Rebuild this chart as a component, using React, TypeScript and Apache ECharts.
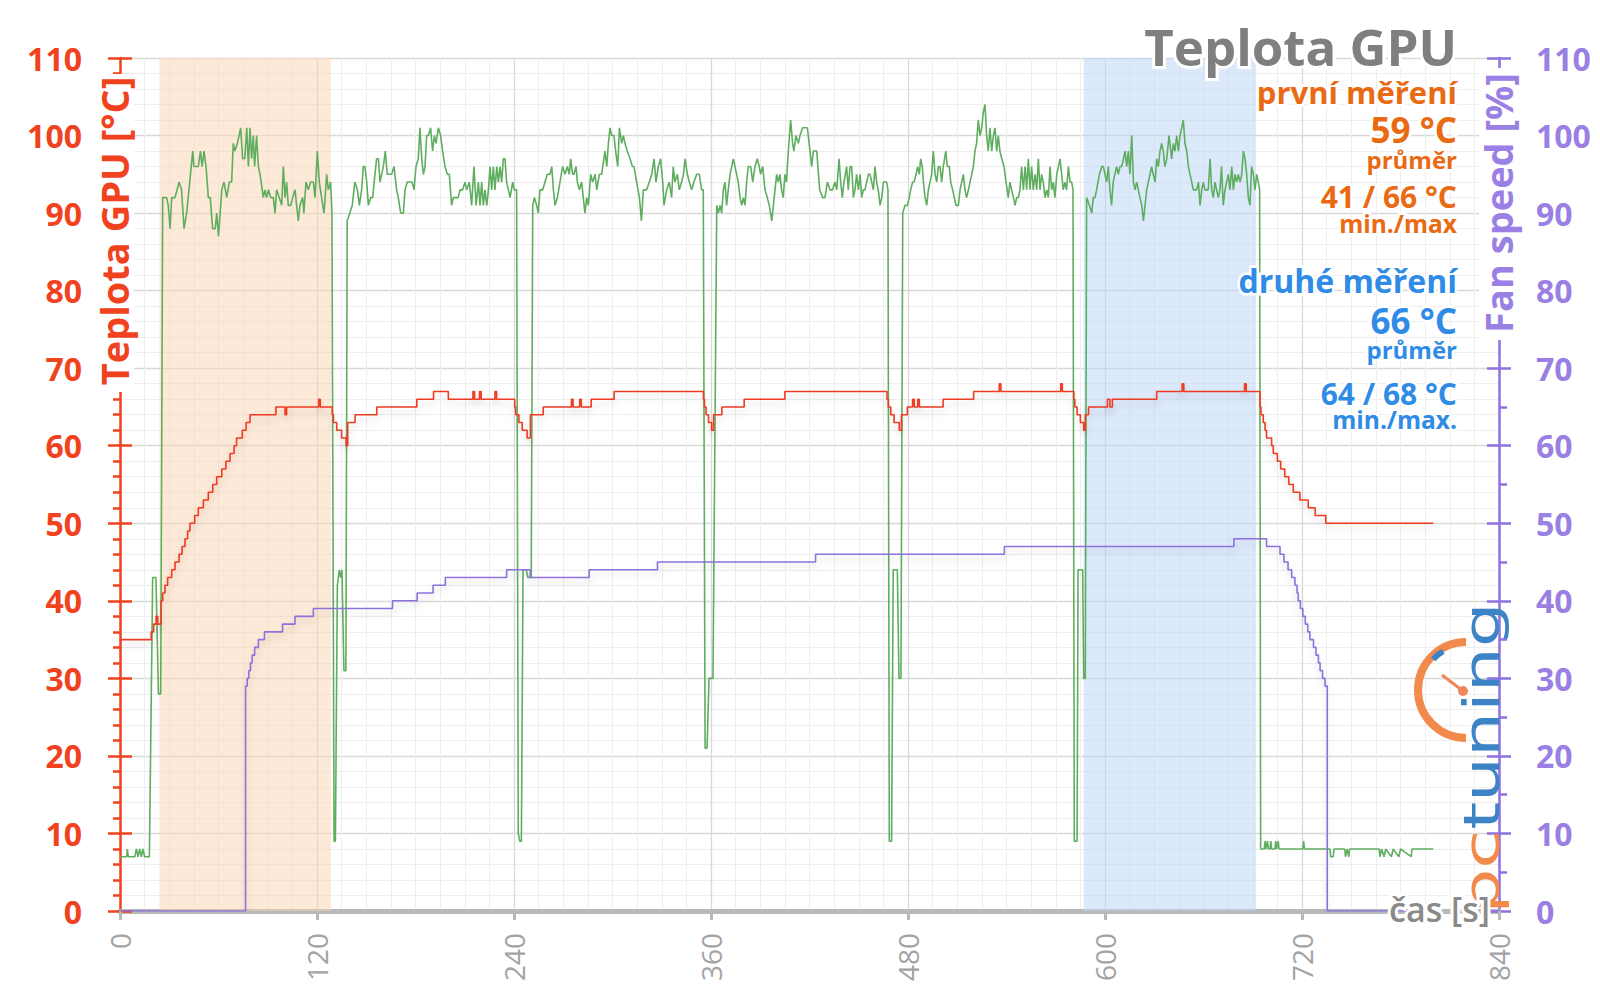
import React, { useEffect, useRef } from 'react';
import * as echarts from 'echarts';

// ---------- data (time [s], value) ----------
const greenPts: [number, number][] = [
  [0,7],[4,7],[4.5,8],[5,7],[9,7],[10,8],[11,7],[12,8],[13,7],[14,8],[15,7],[17.9,7],[19.9,43],[21.9,43],[23.4,28],[24.8,28],
  [26,92],[28.4,92],[29.4,91],[30.5,88],[31.5,92],[33.5,92],[36,94],[37.5,93],[39,88],[40.6,90],[42,93],[44.3,98],[45,96],[47.7,96],[49,98],[50,96],[51.2,98],[52.4,96],[53.8,92],[55,92],[56.4,88],[58,88],[58.9,90],[60,87],[62,93],[63.4,94],[65,92],[66.6,94],[68,94],[69,99],[70,98],[71.5,99],[73.5,101],[74.7,97],[76,97],[77.2,101],[78.2,96],[79.2,101],[80.2,97],[81.2,100],[82,96],[83.2,100],[84.3,96],[85.3,95],[87.3,92],[88.3,93],[89.3,92],[90.4,93],[91.8,92],[93.4,92],[94.4,90],[95.4,93],[97,92],[98.5,91],[99.5,96],[100.5,92],[101.5,94],[102.5,91],[104,91],[105.2,92],[106.6,93],[107.6,91],[108.6,89],[109.6,91],[111.3,92],[112,90],[113.3,94],[114.7,93],[116.1,94],[117.8,94],[118.8,92],[120.2,98],[121.4,94],[122.8,92],[124.3,90],[125.9,95],[126.9,93],[128.3,94],[129.1,90],
  [130.4,9],[131.2,9],[132.4,42],[133.6,44],[134.4,43],[135.2,44],[136.4,31],[137.6,31],[138.4,89],
  [140,90],[141.5,91],[143,94],[144.6,93],[145.8,91],[147.2,93],[148.2,96],[149.2,96],[150.3,94],[151.3,91],[152.7,92],[153.9,92],[155.3,95],[156.3,97],[157.4,97],[158.4,94],[159.4,95],[160.4,96],[161.6,98],[162.8,95],[164,95],[165.5,95],[166.9,96],[168.5,93],[169.5,92],[171,90],[172.6,90],[173.6,93],[175,94],[176.6,94],[177.9,94],[179.1,93],[180.3,96],[181.7,97],[182.7,101],[183.8,97],[184.8,95],[185.8,96],[186.8,100],[187.8,100],[189.2,101],[190.4,98],[191.5,100],[192.5,99],[193.9,101],[195.3,100],[196.5,98],[198,96],[199.4,95],[200.6,95],[202,91],[203,92],[205,92],[206,92],[207.1,93],[208.7,93],[210.2,94],[211.2,93],[212.8,94],[214.2,91],[215.6,96],[216.9,91],[218.3,94],[219.3,91],[220.3,94],[221.3,91],[222.3,93],[223.4,91],[224.4,93],[225.4,96],[226.4,93],[227.4,96],[228.4,93],[229.5,96],[230.5,94],[231.5,96],[232.5,94],[233.5,97],[234.5,97],[235.5,94],[236.6,93],[237.6,92],[239.2,94],[240.2,93],[241.6,93],
  [242.6,10],[243.5,9],[244.5,9],[245.5,44],[247.5,44],[248.5,43],[250.5,43],[251.4,91],
  [252.4,92],[253.8,91],[254.8,90],[255.8,93],[257.5,93],[258.9,94],[260.3,95],[261.9,95],[263,96],[264,93],[265,91],[266.4,92],[268,94],[269.6,96],[271.1,95],[272.5,96],[273.7,95],[274.5,97],[275.7,95],[276.5,95],[277.8,96],[278.6,94],[279.8,93],[281.2,94],[283.2,90],[284.3,92],[285.3,91],[286.7,95],[287.9,94],[289.4,95],[290.4,93],[292,95],[293.4,95],[295.4,98],[296.5,96],[297.5,99],[298.5,101],[299.5,100],[300.9,100],[301.9,98],[303.2,96],[304.2,101],[305.6,99],[306.6,100],[307.6,99],[309,98],[310.7,97],[312.1,96],[313.1,96],[314.7,94],[316.4,92],[317.6,89],[318.8,93],[320.8,93],[322.4,94],[323.9,95],[325.3,97],[326.5,94],[327.9,96],[329.3,97],[330.6,94],[331.4,91],[333,93],[334.6,94],[336,92],[337,96],[338,94],[339.5,95],[340.7,93],[342.1,94],[343.2,95],[344.2,97],[345.6,95],[346.8,94],[348.2,93],[349.6,94],[351.3,95],[352.9,95],[354.3,93],[355.3,93],
  [356.4,21],[357.6,21],[358.8,30],[361.2,30],[363.5,91],
  [364.5,90],[365.5,91],[366.5,90],[367.5,93],[368.5,94],[369.5,91],[370.5,93],[371.6,95],[373.6,97],[374.6,96],[375.6,95],[376.6,94],[377.7,92],[378.7,91],[379.7,92],[380.7,91],[381.7,94],[382.7,96],[384.2,96],[385.4,94],[386.8,96],[388.2,97],[389.4,96],[390.2,95],[391.5,96],[392.9,93],[394.3,92],[395.5,91],[397,89],[398,91],[399,93],[400,95],[401,94],[402,95],[403,93],[404,92],[405,95],[406,94],[407.1,98],[408.5,102],[409.7,99],[410.5,98],[411.7,100],[413.2,99],[414.2,100],[415.8,101],[417.2,101],[418.7,101],[420.3,98],[421.3,96],[422.3,98],[424.4,98],[426.2,93],[428,92],[429.4,92],[430.9,94],[432.5,93],[434.1,93],[435.5,94],[436.6,93],[438,97],[439,94],[440,92],[441,94],[442.6,96],[443.6,93],[444.7,96],[445.7,96],[446.7,92],[447.7,93],[448.7,95],[449.8,93],[450.8,95],[451.8,92],[452.8,93],[453.8,93],[454.8,94],[455.9,95],[456.9,95],[457.9,94],[458.9,93],[459.9,96],[460.9,94],[461.9,93],[463,91],[464,92],[465,94],[466,94],[467,94],[467.8,93],
  [468.6,9],[470,9],[471,44],[473.5,44],[474.5,30],[475.7,30],[476.8,90],
  [478.2,91],[479.6,91],[480.8,92],[481.6,93],[482.8,94],[483.7,94],[484.9,95],[485.9,96],[486.9,95],[487.7,97],[488.7,96],[489.4,94],[490.4,92],[491.4,91],[492.4,93],[493.4,94],[494.4,95],[495.4,98],[496.5,95],[497.5,94],[498.5,96],[499.5,96],[500.5,94],[501.5,96],[503,98],[504,96],[505.2,96],[506,94],[507.2,93],[508.2,92],[509.2,91],[510.7,91],[511.7,93],[512.7,94],[513.7,95],[514.7,93],[515.7,92],[516.8,93],[517.8,94],[518.8,95],[519.8,96],[520.8,98],[521.8,99],[522.8,102],[523.9,100],[524.9,101],[525.9,103],[526.9,104],[527.9,100],[528.9,98],[529.9,101],[531,98],[532,100],[533,101],[534,98],[535,100],[536,98],[537.1,97],[538.5,96],[539.7,94],[541.1,92],[542.1,94],[543.1,93],[544.2,92],[545.2,91],[546.2,92],[547.2,92],[548.2,93],[549.2,96],[550.3,93],[551.3,96],[552.3,93],[553.3,97],[554.3,93],[555.3,96],[556.3,93],[557.4,95],[558.4,93],[559.4,97],[560.4,93],[561.4,95],[562.4,94],[563.5,92],[564.5,93],[565.5,92],[566.5,96],[567.5,93],[568.5,94],[569.5,92],[570.6,95],[571.6,96],[572.6,97],[573.6,95],[574.6,93],[575.6,94],[576.6,93],[577.7,96],[578.7,94],[579.7,94],[580.5,93],
  [581.3,9],[583,9],[583.6,44],[586.4,44],[587,30],[588,30],[588.8,92],
  [590.5,91],[591.9,90],[592.9,92],[593.9,92],[594.9,93],[596.6,95],[598,96],[599,96],[600,95],[601,94],[602,96],[603,93],[604,91],[605,94],[606,95],[607.1,96],[608.1,95],[609.1,96],[610.2,96],[611.2,97],[612.2,98],[613.2,96],[614.2,98],[615.2,95],[616.3,100],[617.3,94],[618.3,93],[619.3,94],[620.3,93],[621.3,92],[622.4,91],[623.4,89],[624.4,91],[625.4,93],[626.4,94],[627.4,95],[628.4,96],[629.4,95],[630.5,94],[631.5,97],[632.5,96],[633.5,98],[634.5,99],[635.5,98],[636.5,96],[637.6,97],[639,100],[640.6,97],[641.6,99],[642.6,98],[643.7,100],[644.7,98],[645.7,100],[646.7,101],[647.7,102],[648.7,99],[649.8,98],[650.8,96],[651.8,95],[652.8,94],[653.8,93],[654.8,93],[655.8,93],[656.9,94],[657.9,91],[658.9,93],[659.9,94],[660.9,93],[661.9,93],[662.9,93],[664,97],[665,93],[666,92],[667,94],[668,93],[669,92],[670,93],[671,96],[672,91],[673.1,93],[674.1,94],[675.1,95],[676.1,93],[677.2,96],[678.2,93],[679.2,95],[680.2,94],[681.2,95],[682.3,94],[683.3,95],[684.3,98],[685.3,97],[686.3,95],[687.3,92],[688.3,91],[689.3,96],[690.4,95],[691.4,93],[692.4,95],[693.4,94],[694.2,93],
  [694.8,8],[697,8],[697.5,9],[698,8],[699,9],[699.5,8],[700.5,8],[701,9],[701.5,8],[703.5,8],[704,9],[704.5,8],[705.5,9],[706,8],[720.5,8],[721,9],[721.5,8],[737,8],[737.5,7],[739,7],[739.5,8],[746,8],[746.5,7],[747.5,8],[748.5,7],[749,8],[767,8],[767.5,7],[768.5,8],[770,7],[771,8],[774.5,7],[775.5,8],[779,7],[780,8],[786.5,7],[787,8],[800,8],
];

// GPU temperature [°C]: value becomes v at time t
const tempPts: [number, number][] = [
  [0,35],[19,36],[20.5,37],[22,38],[23,37],[25,40],[26,41],[27.4,42],[29,43],[31.5,44],[33.5,45],[36,46],[37.8,47],[39.6,48],[41.2,49],[42.6,50],[45.5,51],[47.7,52],[50.8,53],[53.8,54],[56.5,55],[58.9,56],[62,57],[64.5,58],[67,59],[69.5,60],[71,61],[74.5,62],[76.8,63],[79.2,64],[95,65],[100.5,64],[101.5,65],[121,66],[122,65],
  [129.3,64],[130,63],[132,62],[135,61],[137.7,60],[138.7,63],[143.2,64],[156.4,65],[180.8,66],[191,67],[200,66],[215,67],[216,66],[219,67],[220,66],[228.4,67],[229.4,66],
  [240.4,65],[241,64],[243,63],[245,62],[248,61],[250,64],[257.8,65],[275,66],[276,65],[280,66],[281,65],[287,66],[301,67],
  [355.4,66],[356,65],[357,64],[358.5,63],[360.4,62],[361.6,64],[366.6,65],[380.2,66],[405,67],
  [467.2,66],[468,65],[469.5,64],[471.5,63],[474.7,62],[476,64],[479.6,65],[482.8,66],[483.8,65],[485.9,66],[486.9,65],[501.4,66],[520,67],[535.6,68],[536.6,67],[573,68],[574,67],
  [581,66],[581.6,65],[583,64],[585,63],[587,62],[588,64],[590,65],[601.5,66],[603,65],[604.5,66],[631.5,67],[647,68],[648,67],[685,68],[686,67],
  [694.4,65],[695,64],[696.4,63],[697.5,62],[698.4,61],[701.5,60],[702.5,59],[705,58],[707,57],[709.5,56],[712,55],[714.7,54],[718.7,53],[723.8,52],[728,51],[734.5,50],[800,50],
];

// Fan speed [%]: value becomes v at time t
const fanPts: [number, number][] = [
  [0,0],[76.5,29],[77.5,30],[78.5,31],[79.5,32],[80.5,33],[82,34],[84.3,35],[88,36],[99,37],[106.6,38],[117.8,39],[166,40],[181,41],[190.7,42],[198.2,43],[235.5,44],[249.8,43],[285.8,44],[327.4,45],[423.7,46],[538.7,47],[678.5,48],
  [698.4,47],[706.6,46],[709,45],[711.5,44],[713.7,43],[715.7,42],[717,41],[717.7,40],[719,39],[720.5,38],[722,37],[723.5,36],[724.8,35],[727,34],[728.5,33],[730,32],[731,31],[732.5,30],[734,29],[735.4,0],[800,0],
];

const firstBand: [number, number] = [24, 128.5];
const secondBand: [number, number] = [587, 692];

const titleText = 'Teplota GPU';
const firstLines = ['první měření', '59 °C', 'průměr', '41 / 66 °C', 'min./max'];
const secondLines = ['druhé měření', '66 °C', 'průměr', '64 / 68 °C', 'min./max.'];
const leftAxisName = 'Teplota GPU [°C]';
const rightAxisName = 'Fan speed [%]';
const xAxisName = 'čas [s]';

// ---------- styling ----------
const FONT = "'Open Sans', 'Noto Sans', 'DejaVu Sans', sans-serif";
const RED_AXIS = '#f0421e';
const RED_LINE = '#ee3b22';
const GREEN = '#5fae5f';
const PURPLE_AXIS = '#8f71e1';
const PURPLE_LABEL = '#9a80e4';
const PURPLE_LINE = '#8d72de';
const ORANGE_TXT = '#e96a12';
const BLUE_TXT = '#2f8be6';
const GREY_TITLE = '#7f7f7f';

const firstY = [92, 129.5, 159.5, 196, 223];
const firstSize = [31, 35, 24, 30, 24.5];
const secondY = [280.5, 320, 349.5, 393, 419.5];
const secondSize = [32, 35, 24, 30, 24.5];

function statText(text: string, y: number, size: number, color: string) {
  return {
    type: 'text',
    x: 1457,
    y,
    z: 60,
    silent: true,
    style: {
      text,
      fontFamily: FONT,
      fontWeight: 'bold',
      fontSize: size,
      lineHeight: size * 0.9,
      fill: color,
      align: 'right',
      verticalAlign: 'middle',
      stroke: '#ffffff',
      lineWidth: 5,
    },
  };
}

function buildOption(): any {
  const yBase = { type: 'value', min: 0, max: 110, interval: 10 };
  return {
    animation: false,
    backgroundColor: '#ffffff',
    textStyle: { fontFamily: FONT },
    grid: { left: 120, right: 101, top: 58, bottom: 96, containLabel: false },
    xAxis: {
      type: 'value',
      min: 0,
      max: 840,
      interval: 120,
      axisLine: { show: true, lineStyle: { color: '#b9b9b9', width: 5 } },
      axisTick: { show: true, length: 9, lineStyle: { color: '#b9b9b9', width: 3 } },
      axisLabel: { rotate: 90, margin: 22, color: '#a3a3a3', fontSize: 28, fontFamily: FONT },
      splitLine: { show: true, lineStyle: { color: '#d9d9d9', width: 1.3 } },
      minorTick: { show: false, splitNumber: 8 },
      minorSplitLine: { show: true, lineStyle: { color: '#eeeeee', width: 1 } },
    },
    yAxis: [
      {
        ...yBase,
        position: 'left',
        axisLine: { show: true, lineStyle: { color: RED_AXIS, width: 2.5 } },
        axisTick: { show: true, length: 12, lineStyle: { color: RED_AXIS, width: 2.5 } },
        minorTick: { show: true, splitNumber: 5, length: 7, lineStyle: { color: RED_AXIS, width: 2.5 } },
        axisLabel: { margin: 38, color: RED_AXIS, fontSize: 32, fontWeight: 'bold', fontFamily: FONT },
        splitLine: { show: true, lineStyle: { color: '#d9d9d9', width: 1.3 } },
        minorSplitLine: { show: true, lineStyle: { color: '#eeeeee', width: 1 } },
      },
      {
        ...yBase,
        position: 'right',
        axisLine: { show: true, lineStyle: { color: PURPLE_AXIS, width: 2.5 } },
        axisTick: { show: true, length: 12, lineStyle: { color: PURPLE_AXIS, width: 2.5 } },
        minorTick: { show: true, splitNumber: 2, length: 8, lineStyle: { color: PURPLE_AXIS, width: 2.5 } },
        axisLabel: { margin: 37, color: PURPLE_LABEL, fontSize: 32, fontWeight: 'bold', fontFamily: FONT },
        splitLine: { show: false },
      },
      {
        ...yBase,
        position: 'left',
        axisLine: { show: false },
        axisTick: { show: true, inside: true, length: 12, lineStyle: { color: RED_AXIS, width: 2.5 } },
        axisLabel: { show: false },
        splitLine: { show: false },
      },
      {
        ...yBase,
        position: 'right',
        axisLine: { show: false },
        axisTick: { show: true, inside: true, length: 12, lineStyle: { color: PURPLE_AXIS, width: 2.5 } },
        axisLabel: { show: false },
        splitLine: { show: false },
      },
    ],
    series: [
      {
        name: 'green',
        type: 'line',
        data: greenPts,
        yAxisIndex: 0,
        symbol: 'none',
        lineStyle: { color: GREEN, width: 1.6 },
        z: 2,
        markArea: {
          silent: true,
          data: [
            [{ xAxis: firstBand[0], itemStyle: { color: 'rgba(251, 211, 176, 0.5)' } }, { xAxis: firstBand[1] }],
            [{ xAxis: secondBand[0], itemStyle: { color: 'rgba(186, 212, 247, 0.5)' } }, { xAxis: secondBand[1] }],
          ],
        },
      },
      {
        name: 'fan',
        type: 'line',
        data: fanPts,
        yAxisIndex: 1,
        step: 'end',
        symbol: 'none',
        lineStyle: { color: PURPLE_LINE, width: 1.6, shadowColor: 'rgba(0,0,0,0.15)', shadowBlur: 6, shadowOffsetY: 5 },
        z: 3,
      },
      {
        name: 'temp',
        type: 'line',
        data: tempPts,
        yAxisIndex: 0,
        step: 'end',
        symbol: 'none',
        lineStyle: { color: RED_LINE, width: 1.6, shadowColor: 'rgba(0,0,0,0.15)', shadowBlur: 6, shadowOffsetY: 5 },
        z: 4,
      },
    ],
    graphic: [
      // left axis name
      { type: 'rect', z: 50, silent: true, shape: { x: 94, y: 74, width: 40, height: 318 }, style: { fill: '#ffffff' } },
      {
        type: 'text', z: 51, silent: true, x: 114, y: 231, rotation: Math.PI / 2,
        style: { text: leftAxisName, fontFamily: FONT, fontWeight: 'bold', fontSize: 38, fill: RED_AXIS, align: 'center', verticalAlign: 'middle' },
      },
      // right axis name
      { type: 'rect', z: 50, silent: true, shape: { x: 1479, y: 68, width: 40, height: 272 }, style: { fill: '#ffffff' } },
      {
        type: 'text', z: 51, silent: true, x: 1498, y: 203, rotation: Math.PI / 2,
        style: { text: rightAxisName, fontFamily: FONT, fontWeight: 'bold', fontSize: 38, fill: PURPLE_LABEL, align: 'center', verticalAlign: 'middle' },
      },
      // title
      {
        type: 'text', z: 60, silent: true, x: 1457, y: 46,
        style: { text: titleText, fontFamily: FONT, fontWeight: 'bold', fontSize: 51, lineHeight: 46, fill: GREY_TITLE, align: 'right', verticalAlign: 'middle', stroke: '#ffffff', lineWidth: 6 },
      },
      ...firstLines.map((t, i) => statText(t, firstY[i], firstSize[i], ORANGE_TXT)),
      ...secondLines.map((t, i) => statText(t, secondY[i], secondSize[i], BLUE_TXT)),
      // pctuning logo
      {
        type: 'arc', z: 5, silent: true,
        shape: { cx: 1466, cy: 690, r: 48, startAngle: Math.PI / 2, endAngle: Math.PI * 1.5, clockwise: true },
        style: { stroke: '#f28a4c', lineWidth: 8, fill: 'none' },
      },
      {
        type: 'arc', z: 6, silent: true,
        shape: { cx: 1466, cy: 690, r: 45, startAngle: Math.PI * 1.24, endAngle: Math.PI * 1.33, clockwise: true },
        style: { stroke: '#3d84c6', lineWidth: 6, fill: 'none' },
      },
      {
        type: 'line', z: 6, silent: true,
        shape: { x1: 1463, y1: 691, x2: 1442, y2: 675 },
        style: { stroke: '#f0865a', lineWidth: 3 },
      },
      { type: 'circle', z: 6, silent: true, shape: { cx: 1463, cy: 691, r: 5 }, style: { fill: '#f0865a' } },
      {
        type: 'text', z: 5, silent: true, x: 1481, y: 758, rotation: Math.PI / 2, scaleX: 1.42, scaleY: 1,
        style: {
          text: '{a|pc}{b|tuning}',
          align: 'center',
          verticalAlign: 'middle',
          rich: {
            a: { fill: '#f28a4c', fontFamily: "'DejaVu Sans', sans-serif", fontWeight: 'normal', fontSize: 50 },
            b: { fill: '#3d84c6', fontFamily: "'DejaVu Sans', sans-serif", fontWeight: 'normal', fontSize: 50 },
          },
        },
      },
      // x axis name (above the logo)
      {
        type: 'text', z: 61, silent: true, x: 1490, y: 909,
        style: { text: xAxisName, fontFamily: FONT, fontWeight: 600, fontSize: 34, fill: '#8a8a8a', align: 'right', verticalAlign: 'middle', stroke: '#ffffff', lineWidth: 6 },
      },
    ],
  };
}

export default function App() {
  const ref = useRef<HTMLDivElement>(null);
  useEffect(() => {
    if (!ref.current) return;
    const chart = echarts.init(ref.current, null, { renderer: 'svg' });
    chart.setOption(buildOption());
    return () => chart.dispose();
  }, []);
  return (
    <div
      ref={ref}
      style={{ position: 'absolute', left: 0, top: 0, width: 1600, height: 1007, background: '#ffffff' }}
    />
  );
}
